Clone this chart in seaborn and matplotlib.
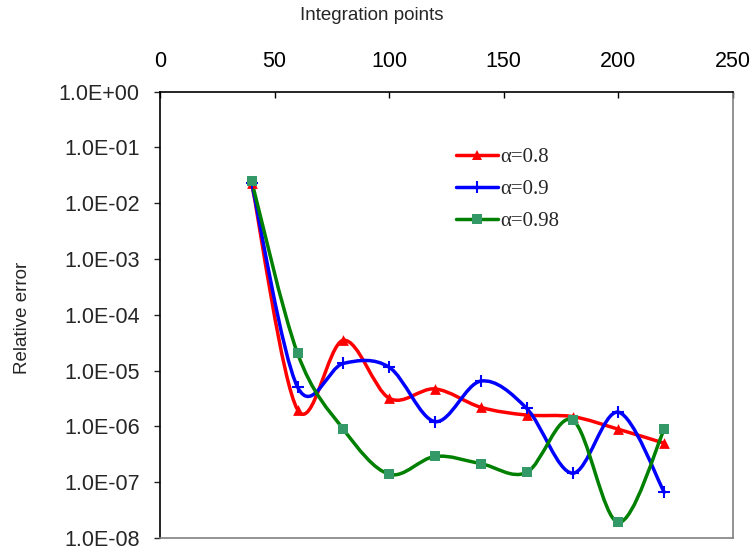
"""Relative error vs. number of integration points, three alpha values."""
import matplotlib
matplotlib.use("Agg")
import matplotlib.pyplot as plt
import numpy as np
import pandas as pd
import seaborn as sns
from matplotlib.lines import Line2D
from matplotlib.patches import PathPatch
from matplotlib.path import Path
from matplotlib.ticker import FixedLocator, FuncFormatter, NullLocator


points = [40, 60, 80, 100, 120, 140, 160, 180, 200, 220]
err_a08 = [2.3e-2, 2.0e-6, 3.5e-5, 3.2e-6, 4.7e-6, 2.2e-6, 1.6e-6, 1.5e-6, 8.9e-7, 5.0e-7]
err_a09 = [2.3e-2, 5.1e-6, 1.35e-5, 1.15e-5, 1.22e-6, 6.5e-6, 2.1e-6, 1.45e-7, 1.8e-6, 6.6e-8]
err_a098 = [2.5e-2, 2.05e-5, 8.9e-7, 1.39e-7, 2.9e-7, 2.15e-7, 1.5e-7, 1.3e-6, 1.9e-8, 8.9e-7]
labels = ["α=0.8", "α=0.9", "α=0.98"]
x_ticks = [0, 50, 100, 150, 200, 250]
y_ticks = [1e-8, 1e-7, 1e-6, 1e-5, 1e-4, 1e-3, 1e-2, 1e-1, 1e0]

LINE_COLORS = ["#ff0000", "#0000ff", "#008000"]
MARKER_COLORS = ["#ff0000", "#0000ff", "#339966"]
MARKERS = ["^", "+", "s"]
MARKER_SIZES = [60, 70, 55]


def smooth_path(x, y):
    """Excel-style smoothed line: cubic Bezier segments built in log-y space."""
    pts = np.column_stack([np.asarray(x, float), np.log10(y)])
    n = len(pts)
    verts, codes = [pts[0]], [Path.MOVETO]
    for i in range(n - 1):
        p0, p1 = pts[max(i - 1, 0)], pts[i]
        p2, p3 = pts[i + 1], pts[min(i + 2, n - 1)]
        verts += [p1 + (p2 - p0) / 6, p2 - (p3 - p1) / 6, p2]
        codes += [Path.CURVE4] * 3
    verts = np.array(verts)
    verts[:, 1] = 10 ** verts[:, 1]
    return Path(verts, codes)


sns.set_style("white")
plt.rcParams["font.family"] = ["Liberation Sans", "DejaVu Sans"]

fig = plt.figure(figsize=(7.52, 5.51), dpi=100)
ax = fig.add_axes([160 / 752, 1 - 538 / 551, 573 / 752, (538 - 91.7) / 551])
ax.set_yscale("log")

series = [err_a08, err_a09, err_a098]
df = pd.DataFrame({
    "points": points * 3,
    "error": err_a08 + err_a09 + err_a098,
    "alpha": [lab for lab in labels for _ in points],
})

for lab, errs, lc, mc, mk, ms in zip(labels, series, LINE_COLORS, MARKER_COLORS, MARKERS, MARKER_SIZES):
    ax.add_patch(PathPatch(smooth_path(points, errs), fill=False, edgecolor=lc,
                           linewidth=2.5, capstyle="round", joinstyle="round", zorder=2))
    sub = df[df["alpha"] == lab]
    if mk == "+":
        sns.scatterplot(data=sub, x="points", y="error", marker=mk, s=ms, color=mc,
                        linewidth=1.5, ax=ax, zorder=3, legend=False)
    else:
        sns.scatterplot(data=sub, x="points", y="error", marker=mk, s=ms, color=mc,
                        edgecolor=mc, linewidth=0, ax=ax, zorder=3, legend=False)

ax.set_xlim(0, 250)
ax.set_ylim(1e-8, 1)

ax.xaxis.tick_top()
ax.xaxis.set_label_position("top")
ax.xaxis.set_major_locator(FixedLocator(x_ticks))
ax.tick_params(axis="x", direction="in", length=4.5, width=1, pad=14.5, labelsize=15.5, colors="black")
ax.yaxis.set_major_locator(FixedLocator(y_ticks))
ax.yaxis.set_minor_locator(NullLocator())
ax.yaxis.set_major_formatter(FuncFormatter(lambda v, _: f"{v:.1E}"))
ax.tick_params(axis="y", direction="out", length=4.5, width=1, pad=10, labelsize=15.5, left=True)

ax.set_xlabel("Integration points", fontsize=13.5)
ax.xaxis.set_label_coords((372 - 160) / 573, 1 + (91.7 - 19.5) / 446.3)
ax.set_ylabel("Relative error", fontsize=13.5)
ax.yaxis.set_label_coords((31 - 160) / 573, (538 - 318) / 446.3)

for side in ["top", "left"]:
    ax.spines[side].set_color("black")
    ax.spines[side].set_linewidth(1.2)
for side in ["right", "bottom"]:
    ax.spines[side].set_color("#808080")
    ax.spines[side].set_linewidth(1.2)

handles = [
    Line2D([], [], color=lc, linewidth=2.5, marker=mk, markersize=ms_,
           markerfacecolor=mc, markeredgecolor=mc, markeredgewidth=1.5 if mk == "+" else 0)
    for lc, mc, mk, ms_ in zip(LINE_COLORS, MARKER_COLORS, MARKERS, [7, 8, 7])
]
ax.legend(handles, labels, loc="upper left", bbox_to_anchor=(456 / 752, 1 - 147.5 / 551),
          bbox_transform=fig.transFigure, frameon=False, prop={"family": "Liberation Serif", "size": 15},
          handlelength=2.0, handletextpad=0.12, labelspacing=0.6, borderpad=0, borderaxespad=0)

fig.savefig("out.png", dpi=100)
